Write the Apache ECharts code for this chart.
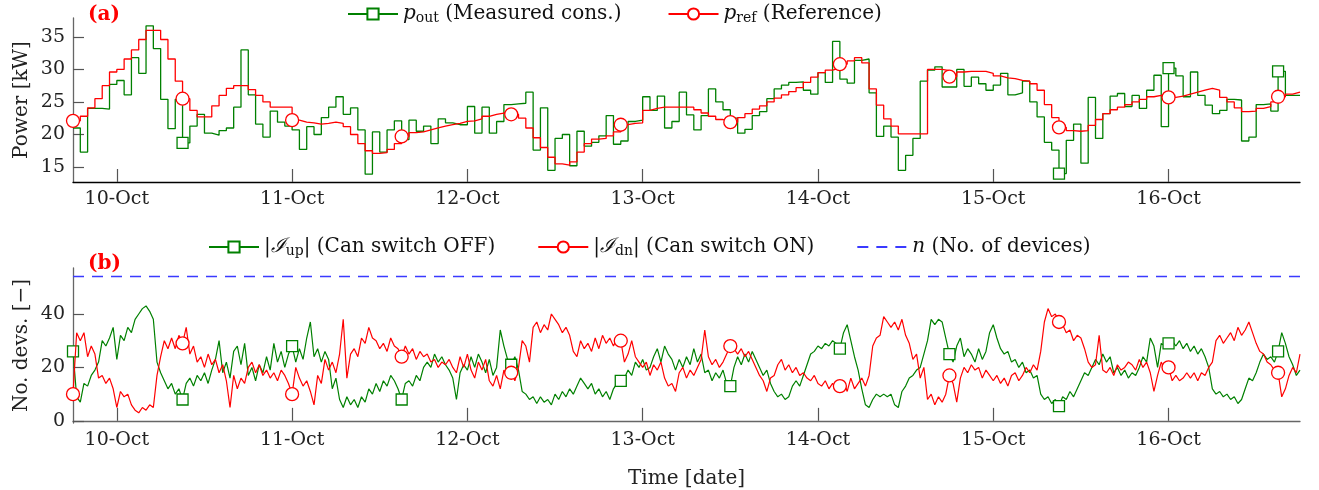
<!DOCTYPE html>
<html><head><meta charset="utf-8">
<script src="https://cdn.jsdelivr.net/npm/echarts@6/dist/echarts.min.js"></script>
<style>html,body{margin:0;padding:0;background:#fff}#c{width:1319px;height:490px}</style>
</head><body><div id="c"></div>
<script>
// time axis: hours after 9-Oct 18:00
const dayLabels = ['10-Oct','11-Oct','12-Oct','13-Oct','14-Oct','15-Oct','16-Oct'];
const dayTickHours = [6,30,54,78,102,126,150];
const powerTicks = [15,20,25,30,35];
const devTicks = [0,20,40];

// hourly step values (kW)
const pOut = [21.0,17.3,24.0,24.0,23.9,27.7,28.3,26.1,31.8,29.4,36.7,33.2,25.4,20.9,25.4,18.7,21.3,23.1,20.2,19.9,
20.6,21.0,24.2,33.0,26.1,21.6,19.6,23.6,21.9,21.3,20.7,17.7,21.2,20.0,22.6,24.2,25.8,23.1,24.1,20.7,
13.9,20.4,17.3,20.7,22.1,19.2,22.2,20.5,21.3,18.6,22.4,21.8,21.5,21.5,24.3,20.2,24.2,20.2,22.0,24.6,
24.7,24.8,26.5,17.6,24.1,14.5,19.4,20.0,15.2,20.5,18.2,18.8,19.8,22.9,18.5,19.0,22.0,22.2,25.8,23.7,
25.9,21.0,22.0,26.5,23.0,20.7,22.9,27.0,25.0,23.8,22.5,20.2,20.8,22.9,23.5,25.5,27.0,27.6,28.0,28.1,
26.8,26.2,29.5,28.0,34.3,28.5,27.9,31.4,31.6,26.4,19.7,21.3,19.6,14.5,16.8,19.4,28.2,29.9,30.4,27.3,
27.3,30.0,27.4,28.8,27.8,26.8,27.6,29.4,26.1,26.4,28.2,25.0,22.7,18.8,17.6,14.0,19.1,21.6,15.6,25.7,
19.4,23.2,25.9,26.3,24.3,26.0,24.0,26.8,29.1,21.2,30.2,29.0,25.8,29.6,26.0,24.5,23.2,23.7,25.4,25.3,
19.0,19.6,24.6,24.7,23.6,29.7,26.0,26.0];
const pRef = [22.1,22.8,24.1,25.5,27.5,29.6,30.0,31.6,33.0,34.6,36.0,36.0,34.6,31.6,28.2,25.5,23.7,22.7,22.7,24.4,
26.0,27.1,27.5,27.5,26.9,26.0,25.0,24.2,24.2,24.2,22.2,21.9,21.8,21.6,21.7,21.9,21.7,21.2,20.0,18.6,
17.5,17.1,17.2,17.7,18.6,19.7,20.3,20.4,20.7,21.0,21.3,21.5,21.7,22.0,22.1,22.4,22.8,23.1,23.3,23.4,
23.1,22.5,21.0,19.5,18.0,16.5,15.5,15.3,15.8,17.3,18.6,19.3,19.4,19.8,20.4,21.5,21.7,21.8,23.7,24.0,
24.2,24.2,24.2,24.2,24.2,23.8,23.3,22.8,22.3,22.0,21.9,22.6,23.2,23.9,24.4,25.0,25.6,26.1,26.6,27.2,
28.0,28.8,29.5,29.9,30.2,30.8,31.3,31.8,31.0,27.0,24.5,22.4,21.3,20.1,20.1,20.1,20.1,30.0,30.0,29.8,
28.9,29.6,29.7,29.7,29.7,29.4,29.0,28.7,28.6,28.3,28.2,27.8,26.8,24.6,22.6,21.1,20.6,20.5,20.6,21.4,
22.3,23.2,23.8,24.2,24.6,25.0,25.4,25.8,26.0,25.8,25.7,25.9,26.2,26.5,26.8,27.1,26.8,25.7,25.0,24.1,
23.5,23.6,24.0,24.3,25.0,25.8,26.2,26.5];

// half-hourly device counts
const iUp = [26,9,7,14,13,17,19,22,30,28,31,35,23,32,30,35,33,38,40,42,43,41,38,22,18,15,12,14,10,12,
8,14,16,13,17,15,18,14,19,23,30,18,22,16,26,28,21,29,17,20,15,21,18,24,19,29,22,26,20,25,
28,22,27,23,31,37,24,27,22,26,23,12,16,8,5,9,6,8,5,9,7,12,10,14,11,15,13,17,15,12,
8,14,15,13,17,15,20,22,20,25,22,24,21,19,16,8,18,21,19,24,20,25,22,18,23,17,20,34,28,23,
21,24,19,11,10,8,9,6.5,9,7,8,6,10,8,11,9,12,10,13,16,14,12,14,10,12,9,11,8,12,14,
15,16,19,17,22,20,23,19,20,24,27,22,28,25,23,19,23,20,24,21,27,22,25,18,19,15,18,16,19,14,
13,20,24,21,25,22,26,23,20,17,19,14,11,9,10,8,9,13,15,13,17,21,25,26,28,27,29,28,30,29,
27,33,36,30,24,19,12,6,5,8,10,9,10,9,10,6,5,11,13,16,17,19,20,25,30,38,36,38,37,31,
25,22,28,31,24,27,25,22,27,23,26,33,36,31,27,25,26,22,23,20,22,18,19,16,17,10,8,9,6.5,8,
5.5,9,8,11,9,12,15,18,17,20,23,21,25,22,24,18,20,17,19,16,18,17,20,24,22,31,28,20,29,28,
29,30,28,30,27,29,26,28,25,27,24,20,12,10,11,9,10,8,9,6.5,8,12,16,15,18,22,25,23,24,22,
26,33,29,24,21,17,19];
const iDn = [10,33,30,33,24,28,25,16,17,14,16,12,5,11,9,10,6,4,3,5,4,6,5,17,24,30,27,31,27,32,
29,35,25,28,22,24,20,25,21,23,18,21,15,5,17,12,16,14,20,22,18,21,17,19,16,18,15,19,17,14,
10,20,16,13,15,11,6,17,14,23,19,22,18,25,38,16,25,27,24,31,29,35,31,30,27,29,26,31,28,27,
24,28,25,27,23,26,24,25,22,23,20,22,21,23,20,18,24,20,25,19,16,22,19,23,15,13,17,12,19,16,
18,15,20,30,28,22,35,37,33,36,34,40,38,36,33,35,32,26,24,30,27,29,26,31,27,32,29,31,28,31,
30,22,25,30,24,22,20,22,17,21,19,22,16,13,14,11,18,20,16,19,17,20,23,34,24,21,23,20,22,25,
28,27,25,27,24,26,23,20,17,15,11,16,17,21,23,19,21,18,20,17,18,16,15,17,14,13,15,12,14,12,
13,15,11,16,12,14,16,13,17,28,31,32,39,37,35,37,34,38,32,29,23,25,16,20,8,10,6,9,7,10,
17,14,7,16,20,18,21,19,20,16,19,17,15,17,14,16,13,17,18,15,17,20,18,21,19,26,37,42,39,40,
37,36,33,34,30,32,31,27,22,20,21,32,19,18,20,17,21,19,20,22,21,19,23,20,22,18,11,17,22,19,
20,15,17,15,16,18,16,18,15,18,17,20,22,30,32,29,31,33,30,35,32,34,37,33,29,26,25,22,21,19,
18,9,12,17,20,18,25];
const nDevices = 54;

const topRefMarkers = [0,15,30,45,60,75,90,105,120,135,150,165];
const topOutMarkers = [15,135,150,165];
const botMarkers = [0,15,30,45,60,75,90,105,120,135,150,165]; // hours

const GREEN = '#008000', RED = '#ff0000', BLUE = '#3a3aff';
const FONT = 'DejaVu Serif';

function stepData(arr, marks) {
  const d = arr.map((v, i) => marks.includes(i) ? { value: [i, v] } : { value: [i, v], symbol: 'none' });
  d.push({ value: [arr.length, arr[arr.length - 1]], symbol: 'none' });
  return d;
}
function halfData(arr, marks) {
  return arr.map((v, k) => marks.includes(k / 2) ? { value: [k / 2, v] } : { value: [k / 2, v], symbol: 'none' });
}

const rich = {
  it: { fontFamily: FONT, fontStyle: 'italic', fontSize: 20, color: '#111' },
  sub: { fontFamily: FONT, fontSize: 14, color: '#111', padding: [9, 0, 0, 0] }
};
const legendText = {
  'p_out': '{it|p}{sub|out} (Measured cons.)',
  'p_ref': '{it|p}{sub|ref} (Reference)',
  'I_up': '|{it|ℐ}{sub|up}| (Can switch OFF)',
  'I_dn': '|{it|ℐ}{sub|dn}| (Can switch ON)',
  'n': '{it|n} (No. of devices)'
};
const legendBase = {
  itemWidth: 50, itemHeight: 14, padding: 0,
  formatter: n => legendText[n],
  textStyle: { fontFamily: FONT, fontSize: 20, color: '#111', rich: rich }
};

function xAxis(gi, withName) {
  return {
    type: 'value', gridIndex: gi, min: 0, max: 168,
    axisLine: { lineStyle: { color: gi === 0 ? '#000' : '#666', width: 1.3 } },
    axisTick: { inside: true, length: 13, customValues: dayTickHours, lineStyle: { color: '#555', width: 1.2 } },
    axisLabel: { customValues: dayTickHours, margin: 8, fontFamily: FONT, fontSize: 19, color: '#222',
      formatter: v => dayLabels[dayTickHours.indexOf(v)] },
    splitLine: { show: false },
    name: withName ? 'Time [date]' : '', nameLocation: 'middle', nameGap: 46, nameMoveOverlap: false,
    nameTextStyle: { fontFamily: FONT, fontSize: 20, color: '#222' }
  };
}
function yAxis(gi, min, max, ticks, name) {
  return {
    type: 'value', gridIndex: gi, min: min, max: max,
    axisLine: { show: true, lineStyle: { color: '#666', width: 1.3 } },
    axisTick: { show: true, inside: true, length: 11, customValues: ticks, lineStyle: { color: '#555', width: 1.2 } },
    axisLabel: { customValues: ticks, margin: 8, fontFamily: FONT, fontSize: 19, color: '#222' },
    splitLine: { show: false },
    name: name, nameLocation: 'middle', nameGap: 41, nameMoveOverlap: false,
    nameTextStyle: { fontFamily: FONT, fontSize: 20, color: '#222' }
  };
}

const chart = echarts.init(document.getElementById('c'), null, { renderer: 'canvas' });
chart.setOption({
  animation: false,
  backgroundColor: '#fff',
  grid: [
    { left: 73, top: 18, width: 1227, height: 164 },
    { left: 73, top: 268, width: 1227, height: 164 }
  ],
  xAxis: [xAxis(0, false), xAxis(1, true)],
  yAxis: [yAxis(0, 12.7, 37.9, powerTicks, 'Power [kW]'), yAxis(1, -0.8, 57.2, devTicks, 'No. devs. [−]')],
  legend: [
    Object.assign({}, legendBase, { left: 347, top: 4, itemGap: 46, data: ['p_out', 'p_ref'] }),
    Object.assign({}, legendBase, { left: 208, top: 237, itemGap: 42,
      data: ['I_up', 'I_dn', { name: 'n', itemStyle: { color: 'rgba(0,0,0,0)', borderWidth: 0 } }] })
  ],
  graphic: [
    { type: 'text', left: 88, top: 5, style: { text: '(a)', font: 'bold 20px "DejaVu Serif"', fill: '#ff0000' } },
    { type: 'text', left: 88, top: 254, style: { text: '(b)', font: 'bold 20px "DejaVu Serif"', fill: '#ff0000' } }
  ],
  series: [
    { name: 'p_out', type: 'line', xAxisIndex: 0, yAxisIndex: 0, step: 'end', data: stepData(pOut, topOutMarkers),
      symbol: 'rect', symbolSize: 11, showAllSymbol: true,
      lineStyle: { color: GREEN, width: 1.3 }, itemStyle: { color: '#fff', borderColor: GREEN, borderWidth: 1.3 }, z: 2 },
    { name: 'p_ref', type: 'line', xAxisIndex: 0, yAxisIndex: 0, step: 'end', data: stepData(pRef, topRefMarkers),
      symbol: 'circle', symbolSize: 13, showAllSymbol: true,
      lineStyle: { color: RED, width: 1.3 }, itemStyle: { color: '#fff', borderColor: RED, borderWidth: 1.3 }, z: 3 },
    { name: 'I_up', type: 'line', xAxisIndex: 1, yAxisIndex: 1, data: halfData(iUp, botMarkers),
      symbol: 'rect', symbolSize: 11, showAllSymbol: true,
      lineStyle: { color: GREEN, width: 1.2 }, itemStyle: { color: '#fff', borderColor: GREEN, borderWidth: 1.3 }, z: 2 },
    { name: 'I_dn', type: 'line', xAxisIndex: 1, yAxisIndex: 1, data: halfData(iDn, botMarkers),
      symbol: 'circle', symbolSize: 13, showAllSymbol: true,
      lineStyle: { color: RED, width: 1.2 }, itemStyle: { color: '#fff', borderColor: RED, borderWidth: 1.3 }, z: 3 },
    { name: 'n', type: 'line', xAxisIndex: 1, yAxisIndex: 1, data: [[0, nDevices], [168, nDevices]],
      symbol: 'none', lineStyle: { color: BLUE, width: 1.4, type: [11, 8] }, itemStyle: { color: BLUE }, z: 1 }
  ]
});
</script></body></html>
